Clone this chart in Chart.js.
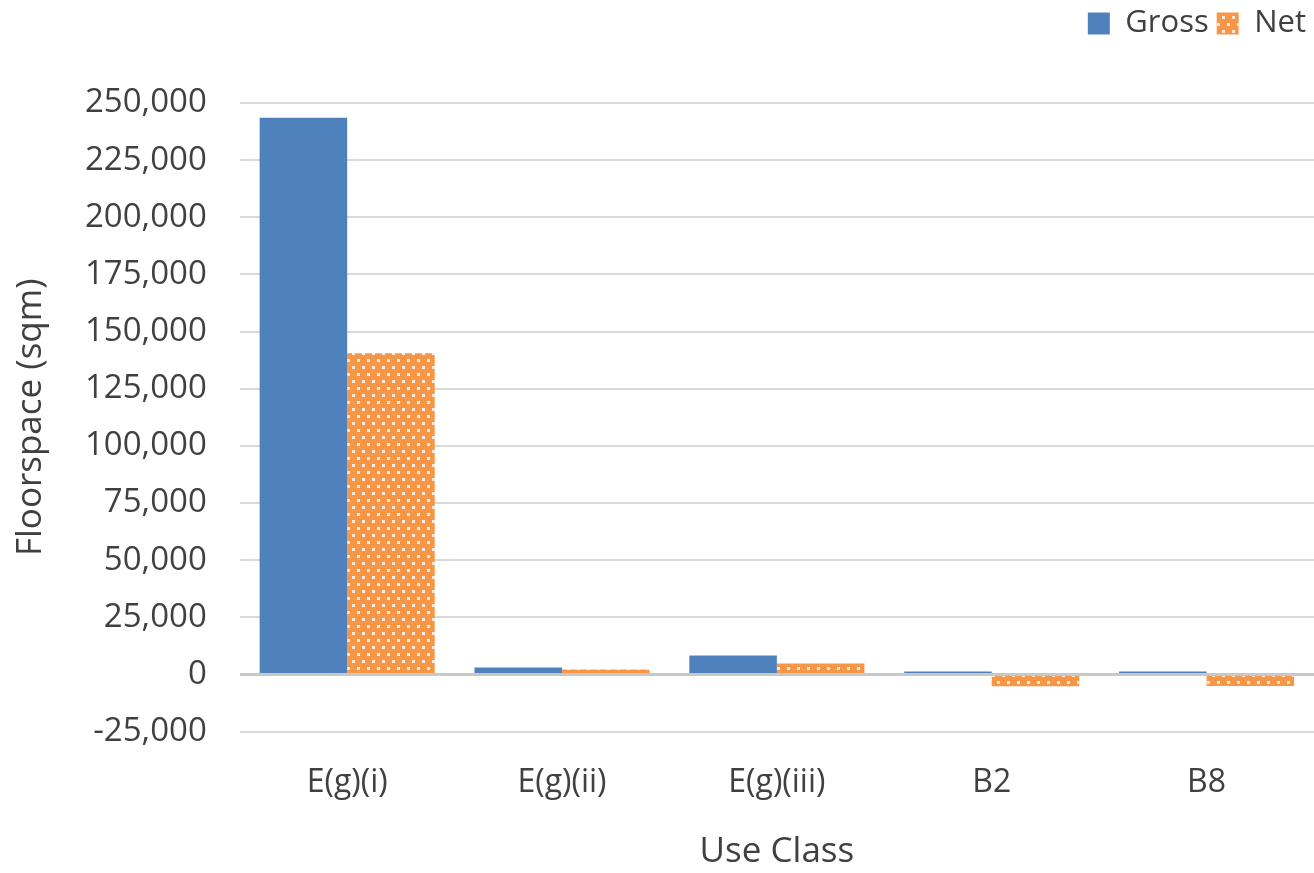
<!DOCTYPE html>
<html lang="en">
<head>
    <meta charset="UTF-8">
    <title>Floorspace by Use Class</title>
    <script src="https://cdn.jsdelivr.net/npm/chart.js"></script>
    <style>
        html, body {
            margin: 0;
            padding: 0;
            background: #ffffff;
        }
        #wrap {
            width: 1314px;
            height: 873px;
        }
    </style>
</head>
<body>
    <div id="wrap"><canvas id="myChart"></canvas></div>

    <script>
        const categories = ['E(g)(i)', 'E(g)(ii)', 'E(g)(iii)', 'B2', 'B8'];
        const grossValues = [243500, 3000, 8300, 1300, 1300];
        const netValues = [140500, 2200, 4800, -5200, -5000];

        // dotted orange fill like the original "Net" series
        function makeDotPattern() {
            const c = document.createElement('canvas');
            c.width = 10;
            c.height = 14;
            const g = c.getContext('2d');
            g.fillStyle = '#f79646';
            g.fillRect(0, 0, 10, 14);
            g.fillStyle = 'rgba(255,255,255,0.8)';
            g.fillRect(2, 2, 3, 3);
            g.fillRect(7, 9, 3, 3);
            return g.createPattern(c, 'repeat');
        }

        // push the plot down below the legend, like the original
        const legendGap = {
            id: 'legendGap',
            beforeLayout(chart) {
                const l = chart.legend;
                if (l && !l._gapPatched) {
                    const fit = l.fit.bind(l);
                    l.fit = function () {
                        fit();
                        this.height += 54;
                    };
                    l._gapPatched = true;
                }
            }
        };

        const ctx = document.getElementById('myChart').getContext('2d');
        const dots = makeDotPattern();
        const font = "'Open Sans', sans-serif";

        new Chart(ctx, {
            type: 'bar',
            data: {
                labels: categories,
                datasets: [
                    {
                        label: 'Gross',
                        data: grossValues,
                        backgroundColor: '#4f81bd',
                        barPercentage: 1.0,
                        categoryPercentage: 0.815
                    },
                    {
                        label: 'Net',
                        data: netValues,
                        backgroundColor: dots,
                        barPercentage: 1.0,
                        categoryPercentage: 0.815
                    }
                ]
            },
            plugins: [legendGap],
            options: {
                responsive: true,
                maintainAspectRatio: false,
                animation: false,
                layout: {
                    padding: { left: 10, right: 0, top: 0, bottom: 0 }
                },
                plugins: {
                    legend: {
                        position: 'top',
                        align: 'end',
                        labels: {
                            boxWidth: 22,
                            boxHeight: 22,
                            padding: 8,
                            color: '#404040',
                            font: { family: font, size: 31 }
                        }
                    },
                    tooltip: { enabled: false }
                },
                scales: {
                    x: {
                        grid: { display: false },
                        border: { display: false },
                        ticks: {
                            color: '#404040',
                            padding: 24,
                            font: { family: font, size: 32 }
                        },
                        title: {
                            display: true,
                            text: 'Use Class',
                            color: '#404040',
                            padding: { top: 5, bottom: 0 },
                            font: { family: font, size: 35 }
                        }
                    },
                    y: {
                        min: -25000,
                        max: 250000,
                        border: { display: false },
                        grid: {
                            color: (c) => c.tick && c.tick.value === 0 ? '#c8c8c8' : '#d9d9d9',
                            lineWidth: (c) => c.tick && c.tick.value === 0 ? 3 : 2,
                            drawTicks: false
                        },
                        ticks: {
                            stepSize: 25000,
                            color: '#404040',
                            padding: 33,
                            font: { family: font, size: 33 },
                            callback: (v) => v.toLocaleString('en-US')
                        },
                        title: {
                            display: true,
                            text: 'Floorspace (sqm)',
                            color: '#404040',
                            padding: { top: 0, bottom: 0 },
                            font: { family: font, size: 35 }
                        }
                    }
                }
            }
        });
    </script>
</body>
</html>
